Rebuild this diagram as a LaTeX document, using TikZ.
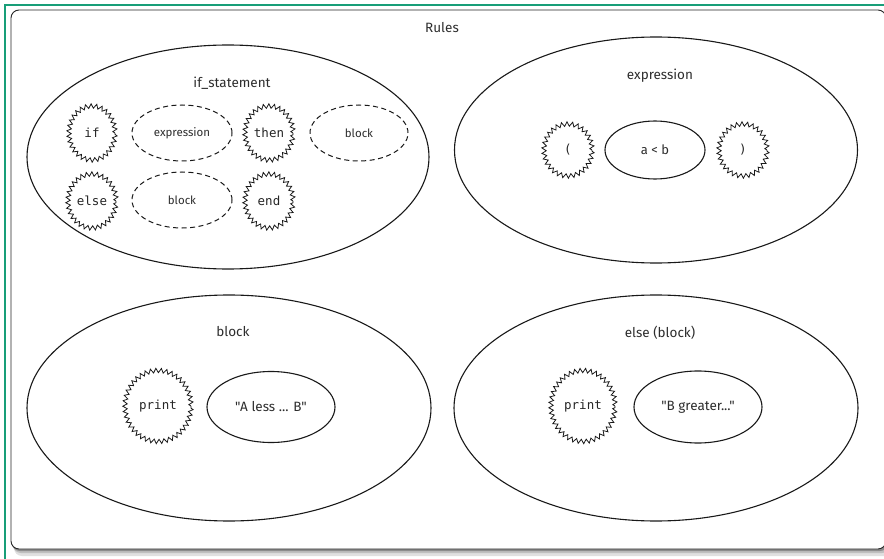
\documentclass[tikz,border=0pt]{standalone}
\usepackage{fontspec}
\setmainfont{Fira Sans}
\newfontfamily\plainf{Fira Sans}[Ligatures=ResetAll]
\newfontfamily\monof{DejaVu Sans Mono}
\usetikzlibrary{shapes.geometric,decorations.pathmorphing}
\definecolor{framegreen}{RGB}{24,158,120}
\definecolor{txt}{RGB}{45,45,45}
\tikzset{
  rule/.style={ellipse, draw=black!90, line width=1.1pt, inner sep=0pt},
  zz/.style={ellipse, draw=black!90, line width=0.8pt, inner sep=0pt,
    decorate, decoration={zigzag, segment length=5.2pt, amplitude=2.2pt},
    font=\monof\fontsize{12.5}{13}\selectfont, text=black!85},
  dsh/.style={ellipse, draw=black!90, line width=1pt, inner sep=0pt,
    dash pattern=on 5pt off 3.5pt, font=\fontsize{11.5}{12}\selectfont, text=txt},
  sol/.style={ellipse, draw=black!90, line width=1.1pt, inner sep=0pt,
    text=txt},
  lbl/.style={font=\fontsize{13.5}{15}\selectfont, text=txt, inner sep=0pt}
}
\begin{document}
\begin{tikzpicture}[x=1pt,y=-1pt]
\useasboundingbox (0,0) rectangle (884,559);
\clip (0,0) rectangle (884,559);
\fill[white] (0,0) rectangle (884,559);
% green frame
\draw[framegreen, line width=2.4pt] (5,565) -- (5,5) -- (890,5);
% shadow
\fill[black!12, rounded corners=8pt] (14,15) rectangle (892,556);
\fill[black!25, rounded corners=8pt] (13,13) rectangle (890,553);
\fill[black!45, rounded corners=8pt] (12,12) rectangle (888,551);
% panel
\draw[black!85, fill=white, line width=0.9pt, rounded corners=8pt] (11,10) rectangle (886,549);
\node[lbl] (rules) at (442,28) {Rules};

% if_statement
\node[rule, minimum width=402pt, minimum height=224pt] (ifst) at (228,157) {};
\node[lbl] (ifl) at (232,83) {if\_statement};
\node[zz, minimum width=46pt, minimum height=54pt] (if) at (92,133) {if};
\node[dsh, minimum width=100pt, minimum height=56pt] (ex1) at (182,133) {expression};
\node[zz, minimum width=48pt, minimum height=54pt] (then) at (269,133) {then};
\node[dsh, minimum width=98pt, minimum height=56pt] (bl1) at (359,133) {block};
\node[zz, minimum width=48pt, minimum height=54pt] (else) at (92,201) {else};
\node[dsh, minimum width=100pt, minimum height=56pt] (bl2) at (182,200) {block};
\node[zz, minimum width=48pt, minimum height=54pt] (end) at (269,201) {end};

% expression
\node[rule, minimum width=403pt, minimum height=226pt] (expr) at (656,150) {};
\node[lbl] (exl) at (660,76) {expression};
\node[zz, minimum width=48pt, minimum height=52pt] (lp) at (568,150) {(};
\node[sol, minimum width=100pt, minimum height=58pt, font=\fontsize{13}{14}\selectfont] (alb) at (655,150) {a < b};
\node[zz, minimum width=48pt, minimum height=52pt] (rp) at (743,150) {)};

% block
\node[rule, minimum width=404pt, minimum height=226pt] (blk) at (229,408) {};
\node[lbl] (bll) at (233,332) {block};
\node[zz, minimum width=66pt, minimum height=71pt] (pr1) at (158,406) {print};
\node[sol, minimum width=128pt, minimum height=71pt, font=\plainf\fontsize{13.5}{14}\selectfont] (s1) at (271,407) {"A less ... B"};

% else (block)
\node[rule, minimum width=404pt, minimum height=226pt] (eblk) at (656,408) {};
\node[lbl] (ebl) at (660,333) {else (block)};
\node[zz, minimum width=64pt, minimum height=71pt] (pr2) at (583,406) {print};
\node[sol, minimum width=128pt, minimum height=72pt, font=\plainf\fontsize{13.5}{14}\selectfont] (s2) at (698,407) {"B greater..."};
\end{tikzpicture}
\end{document}
